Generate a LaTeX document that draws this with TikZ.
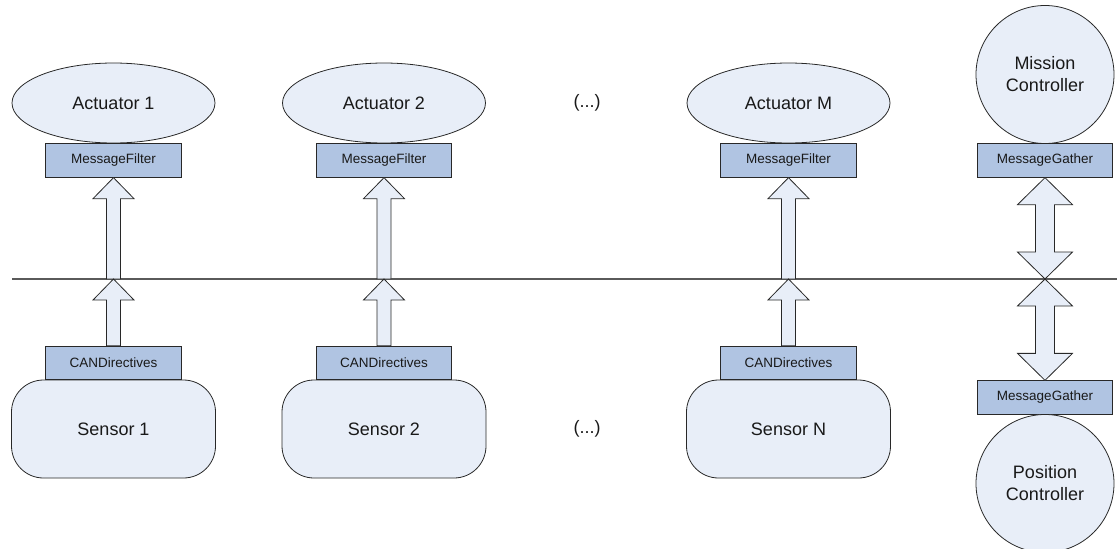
\documentclass[tikz,border=0pt]{standalone}
\usepackage{fontspec}
\setmainfont{Liberation Sans}
\usetikzlibrary{calc,shapes.geometric}
\definecolor{lightfill}{RGB}{232,238,248}
\definecolor{boxfill}{RGB}{176,196,226}
\definecolor{edgegray}{RGB}{40,40,40}
\definecolor{busgray}{RGB}{90,90,90}
\newcommand{\upblock}[2]{%
  \draw[arrowshape] let \p1=(#1), \p2=(#2) in
    (\x2,\y2) -- (\x2+20.5pt,\y2-21pt) -- (\x2+7pt,\y2-21pt) -- (\x2+7pt,\y1)
    -- (\x2-7pt,\y1) -- (\x2-7pt,\y2-21pt) -- (\x2-20.5pt,\y2-21pt) -- cycle;}
\newcommand{\dblblock}[2]{%
  \draw[arrowshape] let \p1=(#1), \p2=(#2) in
    (\x2,\y2) -- (\x2+27.5pt,\y2-27pt) -- (\x2+9.5pt,\y2-27pt) -- (\x2+9.5pt,\y1+27pt)
    -- (\x2+27.5pt,\y1+27pt) -- (\x2,\y1) -- (\x2-27.5pt,\y1+27pt) -- (\x2-9.5pt,\y1+27pt)
    -- (\x2-9.5pt,\y2-27pt) -- (\x2-27.5pt,\y2-27pt) -- cycle;}
\begin{document}
\begin{tikzpicture}[x=1pt,y=-1pt,
  bigtext/.style={font=\fontsize{18}{22}\selectfont, text=black!90},
  actuator/.style={ellipse, draw=edgegray, line width=0.8pt, fill=lightfill, minimum width=203pt, minimum height=80pt, inner sep=0pt, bigtext},
  sensor/.style={rectangle, rounded corners=32pt, draw=edgegray, line width=0.8pt, fill=lightfill, minimum width=204pt, minimum height=98pt, inner sep=0pt, bigtext},
  controller/.style={circle, draw=edgegray, line width=0.8pt, fill=lightfill, minimum size=138pt, inner sep=0pt, bigtext, align=center},
  filterbox/.style={rectangle, draw=edgegray, line width=0.8pt, fill=boxfill, minimum width=135.5pt, minimum height=33.5pt, inner sep=0pt, font=\fontsize{13.5}{16}\selectfont, text=black!90},
  arrowshape/.style={draw=edgegray, line width=0.8pt, fill=lightfill, line join=miter},
  bus/.style={draw=busgray, line width=1.3pt}
]
\useasboundingbox (0,0) rectangle (1117,549);
% bus line
\coordinate (busL) at (12,279);
\coordinate (busR) at (1117,279);
\draw[bus] (busL) -- (busR);
% coordinates on the bus
\coordinate (b1) at (113.5,279);
\coordinate (b2) at (384,279);
\coordinate (b3) at (788.5,279);
\coordinate (b4) at (1045,279);

% actuators
\node[actuator] (act1) at (113.5,103) {Actuator 1};
\node[actuator] (act2) at (384,103) {Actuator 2};
\node[actuator] (act3) at (788.5,103) {Actuator M};
\node[bigtext] (dotsA) at (587,103) {(...)};
\node[filterbox] (mf1) at (113.5,160.5) {MessageFilter};
\node[filterbox] (mf2) at (384,160.5) {MessageFilter};
\node[filterbox] (mf3) at (788.5,160.5) {MessageFilter};

% sensors
\node[sensor] (sen1) at (113.5,429) {Sensor 1};
\node[sensor] (sen2) at (384,429) {Sensor 2};
\node[sensor] (sen3) at (788.5,429) {Sensor N};
\node[bigtext] (dotsS) at (587,429) {(...)};
\node[filterbox] (cd1) at (113.5,363) {CANDirectives};
\node[filterbox] (cd2) at (384,363) {CANDirectives};
\node[filterbox] (cd3) at (788.5,363) {CANDirectives};

% controllers
\node[controller] (mission) at (1045,74.5) {Mission\\Controller};
\node[filterbox] (mg1) at (1045,160.5) {MessageGather};
\node[filterbox] (mg2) at (1045,397.5) {MessageGather};
\node[controller] (position) at (1045,483.5) {Position\\Controller};

% arrows
\upblock{b1}{mf1.south}
\upblock{b2}{mf2.south}
\upblock{b3}{mf3.south}
\upblock{cd1.north}{b1}
\upblock{cd2.north}{b2}
\upblock{cd3.north}{b3}
\dblblock{b4}{mg1.south}
\dblblock{mg2.north}{b4}
\end{tikzpicture}
\end{document}
